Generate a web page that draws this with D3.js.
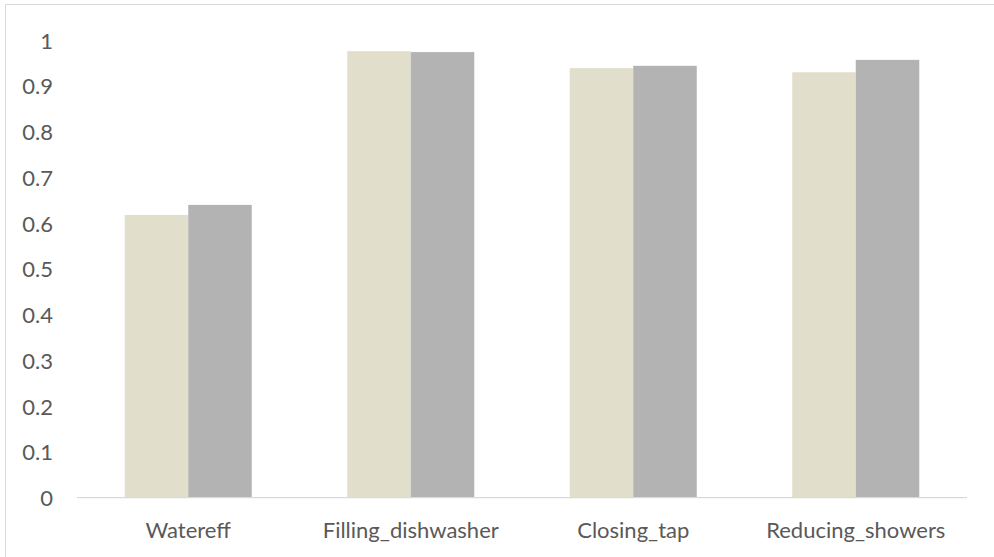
<!DOCTYPE html>
<html><head><meta charset="utf-8">
<script src="https://cdn.jsdelivr.net/npm/d3@7"></script>
<style>
html,body{margin:0;padding:0;background:#fff;overflow:hidden;}
svg{display:block;}
</style></head>
<body>
<svg id="chart" width="994" height="557"></svg>
<script>
const categories = ["Watereff", "Filling_dishwasher", "Closing_tap", "Reducing_showers"];
const series1 = [0.618, 0.976, 0.939, 0.930];
const series2 = [0.640, 0.974, 0.944, 0.957];
const yTicks = [0, 0.1, 0.2, 0.3, 0.4, 0.5, 0.6, 0.7, 0.8, 0.9, 1];
const colors = ["#e1dfcc", "#b3b3b3"];

const W = 994, H = 557;
const svg = d3.select("#chart");
const font = "Lato, 'Open Sans', sans-serif";

// outer chart border (extends past the viewport on the right and bottom)
svg.append("rect").attr("x", 5.5).attr("y", 4.5).attr("width", W + 10).attr("height", H + 10)
  .attr("fill", "none").attr("stroke", "#d9d9d9").attr("stroke-width", 1);

const x0 = d3.scaleBand().domain(categories).range([77, 967]).paddingInner(0.429).paddingOuter(0.2145);
const x1 = d3.scaleBand().domain([0, 1]).range([0, x0.bandwidth()]);
const y = d3.scaleLinear().domain([0, 1]).range([497.7, 40.2]);

const data = categories.map((c, i) => ({c, vals: [series1[i], series2[i]]}));

const g = svg.append("g");
g.selectAll("g.cat").data(data).join("g").attr("class", "cat")
  .attr("transform", d => `translate(${x0(d.c)},0)`)
  .selectAll("rect").data(d => d.vals.map((v, k) => ({v, k}))).join("rect")
  .attr("x", d => x1(d.k)).attr("width", x1.bandwidth())
  .attr("y", d => y(d.v)).attr("height", d => y(0) - y(d.v))
  .attr("fill", d => colors[d.k]);

// x axis
const xAxis = d3.axisBottom(x0).tickSize(0).tickPadding(0);
const xg = svg.append("g").attr("transform", `translate(0,${y(0)})`).call(xAxis);
xg.select(".domain").attr("stroke", "#d9d9d9").attr("stroke-width", 1.3).attr("d", "M77,0H967");
xg.selectAll("text").attr("font-family", font).attr("font-size", 22).attr("fill", "#595959")
  .attr("dy", null).attr("y", 40.3);

// y axis
const yAxis = d3.axisLeft(y).tickValues(yTicks).tickSize(0).tickPadding(0).tickFormat(d3.format("~g"));
const yg = svg.append("g").attr("transform", "translate(53,0)").call(yAxis);
yg.select(".domain").remove();
yg.selectAll("text").attr("font-family", font).attr("font-size", 22).attr("fill", "#595959")
  .attr("dy", "0.36em");
</script>
</body></html>
